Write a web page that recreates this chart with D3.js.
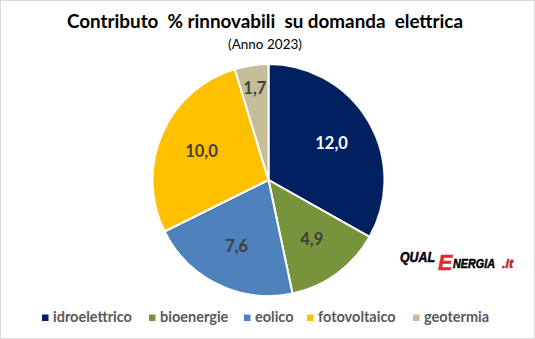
<!DOCTYPE html>
<html><head><meta charset="utf-8">
<script src="https://cdn.jsdelivr.net/npm/d3@7"></script>
<style>body{margin:0;background:#fff}svg{display:block}</style>
</head><body>
<script>
const categories = ["idroelettrico","bioenergie","eolico","fotovoltaico","geotermia"];
const values = [12.0, 4.9, 7.6, 10.0, 1.7];
const colors = ["#002060","#77933C","#4F81BD","#FFC000","#C4BD97"];
const labelColors = ["#FFFFFF","#404040","#404040","#404040","#404040"];
const title = "Contributo  % rinnovabili  su domanda  elettrica";
const subtitle = "(Anno 2023)";

const W = 535, H = 339;
const svg = d3.select("body").append("svg").attr("width", W).attr("height", H);
svg.append("rect").attr("x",0.5).attr("y",0.5).attr("width",W-1).attr("height",H-1)
  .attr("fill","#fff").attr("stroke","#D9D9D9");

const font = "Lato, 'Open Sans', sans-serif";
svg.append("text").attr("x",265).attr("y",28).attr("text-anchor","middle")
  .attr("font-family",font).attr("font-weight","bold").attr("font-size",18)
  .attr("textLength",396).attr("lengthAdjust","spacingAndGlyphs")
  .attr("fill","#000").style("white-space","pre").text(title);
svg.append("text").attr("x",265).attr("y",49).attr("text-anchor","middle")
  .attr("font-family",font).attr("font-size",13.5).attr("fill","#000").text(subtitle);

const cx = 268.5, cy = 180, r = 116;
const pie = d3.pie().sort(null).value(d => d)(values);
const arc = d3.arc().innerRadius(0).outerRadius(r);
const g = svg.append("g").attr("transform",`translate(${cx},${cy})`);
g.selectAll("path").data(pie).join("path").attr("d",arc)
  .attr("fill",(d,i)=>colors[i]).attr("stroke","#fff").attr("stroke-width",2);
const fmt = v => v.toFixed(1).replace(".",",");
g.selectAll("text.lbl").data(pie).join("text").attr("class","lbl")
  .attr("transform", d => {
    const a = (d.startAngle + d.endAngle)/2;
    const lr = (d.endAngle - d.startAngle) < 0.5 ? r*0.8 : r*0.63;
    return `translate(${Math.sin(a)*lr},${-Math.cos(a)*lr})`;
  })
  .attr("text-anchor","middle").attr("dy","0.35em")
  .attr("font-family",font).attr("font-weight","bold").attr("font-size",16.5)
  .attr("fill",(d,i)=>labelColors[i]).text(d => fmt(d.data));

// logo
const lf = "'Liberation Sans', Arial, sans-serif";
const logo = svg.append("g").attr("font-family",lf).attr("font-weight","bold").attr("font-style","italic")
  .attr("stroke-width",0.5);
logo.append("text").attr("x",400).attr("y",262).attr("font-size",14)
  .attr("textLength",35).attr("lengthAdjust","spacingAndGlyphs").attr("fill","#000").attr("stroke","#000").text("QUAL");
logo.append("text").attr("x",438).attr("y",270).attr("font-size",21.5)
  .attr("fill","#E02A2F").attr("stroke","#E02A2F").text("E");
logo.append("text").attr("x",453).attr("y",268).attr("font-size",12.5)
  .attr("textLength",42).attr("lengthAdjust","spacingAndGlyphs").attr("fill","#000").attr("stroke","#000").text("NERGIA");
logo.append("text").attr("x",502).attr("y",268).attr("font-size",12.5)
  .attr("fill","#B8262B").attr("stroke","#B8262B").text(".it");

// legend
const legX = [42, 149, 244, 307, 413];
const leg = svg.append("g");
categories.forEach((c,i) => {
  leg.append("rect").attr("x",legX[i]).attr("y",314.5).attr("width",6.5).attr("height",6.5).attr("fill",colors[i]);
  leg.append("text").attr("x",legX[i]+11).attr("y",322)
    .attr("font-family",font).attr("font-weight","bold").attr("font-size",14.5)
    .attr("fill","#595959").text(c);
});
</script>
</body></html>
